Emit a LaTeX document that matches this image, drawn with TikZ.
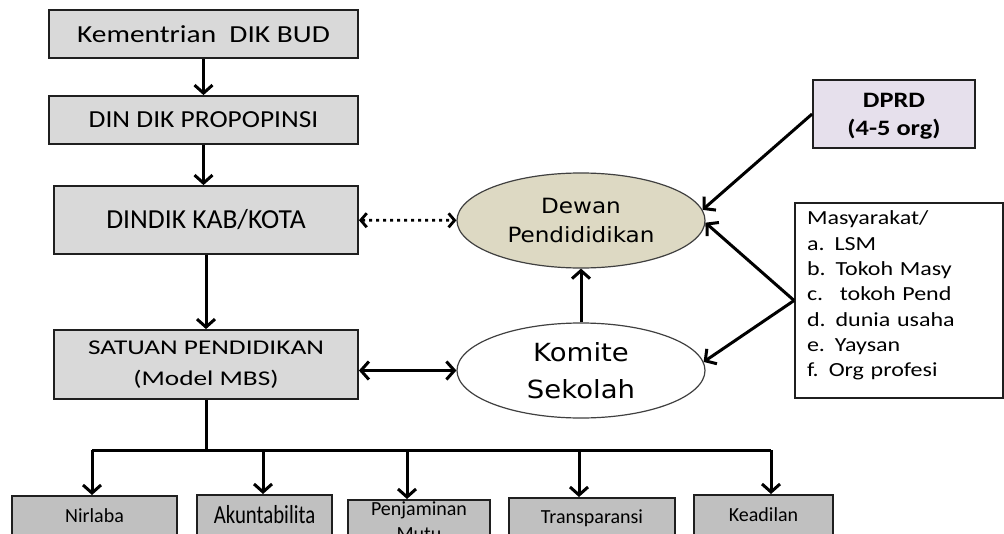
\documentclass[tikz,border=0pt]{standalone}
\usepackage{fontspec}
\setmainfont{Carlito}
\newfontfamily\midfont[FakeStretch=1.12]{Carlito}
\newfontfamily\widefont[FakeStretch=1.2]{Carlito}
\newfontfamily\widerfont[FakeStretch=1.3]{Carlito}
\newfontfamily\tallfont[FakeStretch=0.8]{Carlito}
\newfontfamily\ovalfont[FakeStretch=1.1]{DejaVu Sans}
\usepackage{tikz}
\usetikzlibrary{shapes.geometric,arrows.meta,positioning}
\usepackage{xcolor}
\definecolor{levelgray}{HTML}{D9D9D9}
\definecolor{pillargray}{HTML}{C0C0C0}
\definecolor{dewanfill}{HTML}{DDD9C3}
\definecolor{dprdfill}{HTML}{E6E0EC}
\definecolor{inkline}{HTML}{1F1F1F}
\newcommand{\fsz}[2]{\fontsize{#1}{#2}\selectfont}

\begin{document}
\begin{tikzpicture}[x=1pt, y=-1pt,
    level/.style={draw=inkline, line width=1.8pt, fill=levelgray, inner sep=0pt, align=center},
    pillar/.style={draw=inkline, line width=1.8pt, fill=pillargray, anchor=north, minimum height=40pt, inner ysep=2pt, align=center, font=\fsz{20}{25}},
    oval/.style={draw=black!75, line width=1.2pt, ellipse, minimum width=248pt, minimum height=95pt, inner sep=0pt, align=center},
    bus/.style={line width=3pt, line join=round},
    link/.style={line width=3pt, -{Straight Barb[length=8pt,width=18pt]}},
    twoway/.style={line width=3pt, {Straight Barb[length=8pt,width=18pt]}-{Straight Barb[length=8pt,width=18pt]}},
    dotlink/.style={line width=2.8pt, dash pattern=on 3pt off 4pt, {Straight Barb[length=6pt,width=14pt]}-{Straight Barb[length=6pt,width=14pt]}}]
    \useasboundingbox (0,0) rectangle (1004,533);
    \clip (0,0) rectangle (1004,533);
    \fill[white] (0,0) rectangle (1004,533);

    \node[level, minimum width=309pt, minimum height=48pt, font=\widefont\fsz{24.5}{29}] (kemen) at (203.5,34) {Kementrian~ DIK BUD};
    \node[level, minimum width=309pt, minimum height=48pt, font=\midfont\fsz{24.5}{29}] (dinprov) at (203.5,120) {DIN DIK PROPOPINSI};
    \node[level, minimum width=304pt, minimum height=68pt, font=\fsz{27.5}{31}] (dinkab) at (206,220) {DINDIK KAB/KOTA};
    \node[level, minimum width=304pt, minimum height=69pt, font=\widerfont\fsz{21}{31}] (satuan) at (206,364.5) {SATUAN PENDIDIKAN\\(Model MBS)};

    \node[oval, fill=dewanfill, font=\ovalfont\fsz{21}{29}] (dewan) at (581,220.5) {Dewan\\Pendididikan};
    \node[oval, fill=white, font=\ovalfont\fsz{25}{37}] (komite) at (581,370.5) {Komite\\Sekolah};

    \node[draw=inkline, line width=1.8pt, fill=dprdfill, minimum width=162pt, minimum height=68pt, inner sep=0pt, text depth=0pt, align=center, font=\widefont\bfseries\fsz{22}{28}] (dprd) at (894,114) {DPRD\\(4-5 org)};
    \node[draw=inkline, line width=1.8pt, fill=white, minimum width=208pt, minimum height=195pt, text width=184pt, inner xsep=12pt, inner ysep=0pt, text depth=165pt, align=left, font=\widefont\fsz{20}{25.3}] (masy) at (899,300.5) {Masyarakat/\\a. LSM\\b. Tokoh Masy\\c.~ tokoh Pend\\d. dunia usaha\\e. Yaysan\\f. Org profesi};

    \node[pillar, minimum width=165pt] (nirlaba) at (94.5,495) {Nirlaba};
    \node[pillar, minimum width=135pt, font=\tallfont\fsz{26}{30}] (akunt) at (264.5,494) {Akuntabilita};
    \node[pillar, minimum width=142pt] (penjam) at (419,499) {Penjaminan\\Mutu};
    \node[pillar, minimum width=166pt] (transp) at (592,497) {Transparansi};
    \node[pillar, minimum width=139pt] (keadil) at (763.5,494) {Keadilan};

    \coordinate (fork) at (206,450);
    \coordinate (tapA) at (92,450);
    \coordinate (tapB) at (263,450);
    \coordinate (tapC) at (407,450);
    \coordinate (tapD) at (579,450);
    \coordinate (tapE) at (771,450);

    \draw[link] (kemen) -- (dinprov);
    \draw[link] (dinprov) -- (dinprov.south |- dinkab.north);
    \draw[link] (dinkab) -- (satuan);
    \draw[dotlink] (dinkab) -- (dewan);
    \draw[twoway] (satuan.east |- komite.west) -- (komite.west);
    \draw[link] (komite) -- (dewan);
    \draw[link] (dprd.west) -- (dewan.5);
    \draw[link] (masy.west) -- (dewan.-1);
    \draw[link] (masy.west) -- (komite.4);

    \draw[bus] (satuan.south) -- (fork);
    \draw[bus] (tapA) -- (tapE);
    \draw[link] (tapA) -- (tapA |- nirlaba.north);
    \draw[link] (tapB) -- (tapB |- akunt.north);
    \draw[link] (tapC) -- (tapC |- penjam.north);
    \draw[link] (tapD) -- (tapD |- transp.north);
    \draw[link] (tapE) -- (tapE |- keadil.north);
\end{tikzpicture}
\end{document}
